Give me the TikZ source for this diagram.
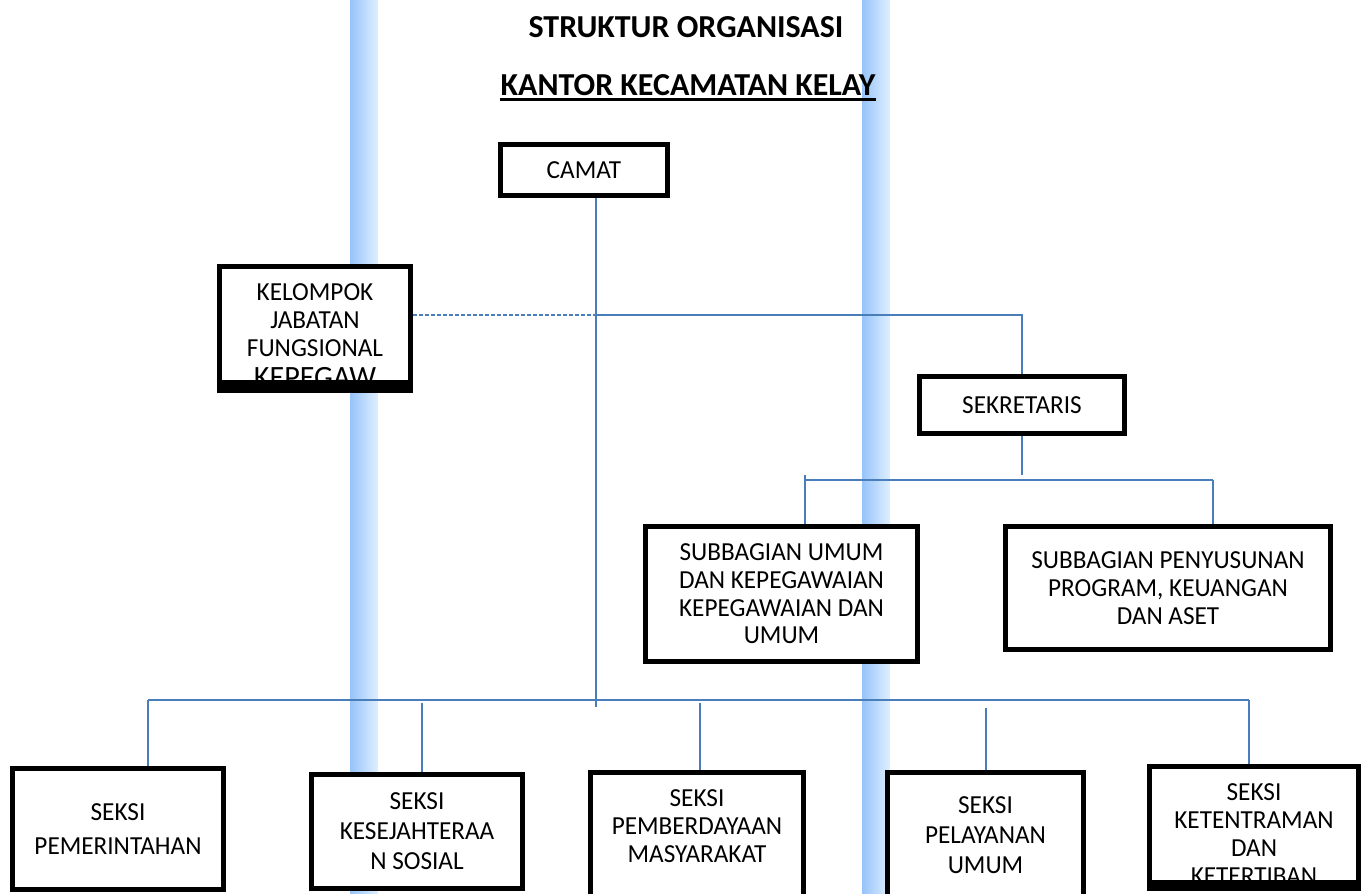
\documentclass[tikz,border=0pt]{standalone}
\usepackage{fontspec}
\setmainfont{Carlito}
\newfontfamily\isifont{Carlito}[FakeStretch=0.97]
\usetikzlibrary{positioning}
\pgfdeclarelayer{bg}
\pgfsetlayers{bg,main}
\definecolor{linkblue}{RGB}{74,126,187}
\definecolor{bardark}{RGB}{150,196,250}
\definecolor{barlight}{RGB}{224,239,255}

\begin{document}
\begin{tikzpicture}[x=1pt,y=-1pt,
box/.style={draw,line width=5pt,fill=white,inner sep=0pt,align=center,font=\isifont\fontsize{26}{28}\selectfont},
isi/.style={inner sep=0pt,align=center,font=\isifont\fontsize{26}{28}\selectfont},
judul/.style={inner sep=0pt,font=\fontsize{32}{32}\selectfont\bfseries},
link/.style={draw=linkblue,line width=1.6pt},
bar/.style={left color=bardark,right color=barlight,draw=none}]
\useasboundingbox (0,0) rectangle (1363,894);

% judul
\node[judul] (struktur) at (686,27) {STRUKTUR ORGANISASI};
\node[judul,anchor=base] (kantor) at (688,95) {KANTOR KECAMATAN KELAY};
\draw[line width=3pt] ([yshift=-4pt]kantor.base west) -- ([yshift=-4pt]kantor.base east);

% pimpinan dan sekretariat
\node[box,minimum width=167pt,minimum height=51pt] (camat) at (584,170) {CAMAT};
\node[box,minimum width=191pt,minimum height=124pt] (kelompok) at (315,328.5) {};
\begin{scope}
\clip ([xshift=5pt,yshift=-5pt]kelompok.north west) rectangle ([xshift=-5pt,yshift=13pt]kelompok.south east);
\node[isi,anchor=north] (kelompok-isi) at (315,283)
  {KELOMPOK\\JABATAN\\FUNGSIONAL\\[3pt]{\fontsize{31}{31}\selectfont KEPEGAW}};
\end{scope}
\fill (kelompok.south west) rectangle ([yshift=13pt]kelompok.south east);
\node[box,minimum width=205pt,minimum height=57pt] (sekretaris) at (1022,405) {SEKRETARIS};
\node[box,minimum width=272pt,minimum height=135pt,font=\isifont\fontsize{26}{27.7}\selectfont] (subumum) at (781.5,594)
  {SUBBAGIAN UMUM\\DAN KEPEGAWAIAN\\KEPEGAWAIAN DAN\\UMUM};
\node[box,minimum width=325pt,minimum height=123pt] (subprogram) at (1168,588)
  {SUBBAGIAN PENYUSUNAN\\PROGRAM, KEUANGAN\\DAN ASET};

% seksi
\node[box,minimum width=211pt,minimum height=121pt,font=\isifont\fontsize{26}{34}\selectfont] (pemerintahan) at (118,829)
  {SEKSI\\PEMERINTAHAN};
\node[box,minimum width=211pt,minimum height=114pt,font=\isifont\fontsize{26}{30}\selectfont] (kesos) at (417,831.5)
  {SEKSI\\KESEJAHTERAA\\N SOSIAL};
\node[box,minimum width=213pt,minimum height=125pt,text depth=18pt] (pemberdayaan) at (697,835)
  {SEKSI\\PEMBERDAYAAN\\MASYARAKAT};
\node[box,minimum width=196pt,minimum height=125pt,font=\isifont\fontsize{26}{30}\selectfont] (pelayanan) at (985.5,835)
  {SEKSI\\PELAYANAN\\UMUM};
\node[box,minimum width=209pt,minimum height=122pt] (ketentraman) at (1254,827.5) {};
\begin{scope}
\clip ([xshift=5pt,yshift=-5pt]ketentraman.north west) rectangle ([xshift=-5pt,yshift=11pt]ketentraman.south east);
\node[isi,anchor=north] (ketentraman-isi) at (1254,783)
  {SEKSI\\KETENTRAMAN\\DAN\\KETERTIBAN};
\end{scope}
\fill (ketentraman.south west) rectangle ([yshift=11pt]ketentraman.south east);

% garis
\coordinate (cbus) at (596,707);
\coordinate (kj) at (597,315);
\coordinate (sbus) at (1022,475);
\coordinate (sl) at (805,480);
\coordinate (sr) at (1213,480);
\coordinate (bl) at (148,700);
\coordinate (br) at (1249,700);
\coordinate (d2) at (422,703);
\coordinate (d3) at (700,703);
\coordinate (d4) at (986,708);

\begin{pgfonlayer}{bg}
\fill[bar] (350,0) rectangle (378,894);
\fill[bar] (862,0) rectangle (890,894);
\draw[link] (camat.south -| cbus) -- (cbus);
\draw[link,dash pattern=on 4pt off 2pt] (kelompok.east |- kj) -- (kj);
\draw[link] (kj) -- (kj -| sekretaris.north) -- (sekretaris.north);
\draw[link] (sekretaris.south -| sbus) -- (sbus);
\draw[link] (sl) -- (sr);
\draw[link] ([yshift=5pt]sl) -- (subumum.north -| sl);
\draw[link] (sr) -- ([yshift=-6pt]subprogram.north -| sr);
\draw[link] (bl) -- (br);
\draw[link] (bl) -- (pemerintahan.north -| bl);
\draw[link] (d2) -- (kesos.north -| d2);
\draw[link] (d3) -- (pemberdayaan.north -| d3);
\draw[link] (d4) -- (pelayanan.north -| d4);
\draw[link] (br) -- (ketentraman.north -| br);
\end{pgfonlayer}
\end{tikzpicture}
\end{document}
